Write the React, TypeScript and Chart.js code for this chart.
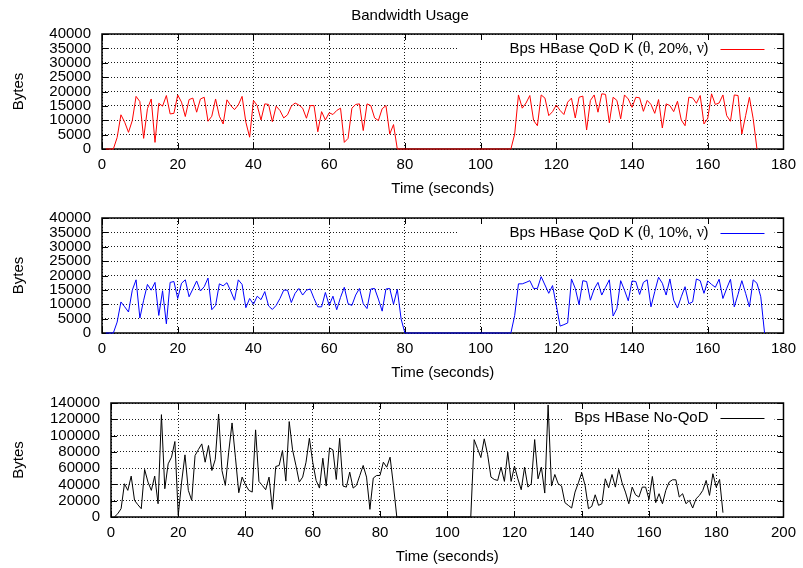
import React, { useEffect, useRef } from "react";
import { Chart, registerables } from "chart.js";

Chart.register(...registerables);

const FONT = "'Liberation Sans', Arial, Helvetica, sans-serif";
const GREEK_FONT = "'Liberation Serif', 'DejaVu Serif', serif";

const TITLE = "Bandwidth Usage";
const X_TITLE = "Time (seconds)";
const Y_TITLE = "Bytes";

const redLabel = "Bps HBase QoD K (θ, 20%, ν)";
const blueLabel = "Bps HBase QoD K (θ, 10%, ν)";
const blackLabel = "Bps HBase No-QoD";

// x-axis ranges and steps (seconds)
const qodXMax = 180;
const noQodXMax = 200;
const xStep = 20;
// y-axis ranges and steps (bytes)
const qodYMax = 40000;
const qodYStep = 5000;
const noQodYMax = 140000;
const noQodYStep = 20000;

// first sample second of each series (one sample per second)
const redStartSecond = 1;
const blueStartSecond = 1;
const blackStartSecond = 1;

const redBytes = [
  0, 0, 0, 4000, 11900, 9300, 5800, 9900, 18300, 16500,
  3700, 14000, 17400, 2300, 15900, 14900, 18600, 12200, 12400, 18800,
  16300, 11300, 17200, 17700, 12800, 17400, 18000, 9650, 11400, 17400,
  11400, 8700, 17100, 15100, 13700, 15300, 18300, 9300, 4100, 16900,
  15100, 10100, 15700, 15500, 9500, 14900, 13400, 10800, 11900, 14900,
  16000, 15300, 14200, 10700, 15100, 15100, 6000, 13000, 10100, 12600,
  12000, 13400, 14200, 2300, 3700, 14200, 15500, 15700, 6400, 15700,
  15100, 10800, 9900, 14000, 15100, 5200, 8500, 0, 0, 0,
  0, 0, 0, 0, 0, 0, 0, 0, 0, 0,
  0, 0, 0, 0, 0, 0, 0, 0, 0, 0,
  0, 0, 0, 0, 0, 0, 0, 0, 5200, 18800,
  14200, 16000, 18600, 9900, 8100, 18800, 17700, 11600, 13000, 15300,
  13400, 12000, 16300, 17700, 10800, 18000, 18400, 6600, 16900, 18800,
  12800, 19200, 19000, 9100, 18000, 16900, 10500, 18800, 17400, 14500,
  18000, 17800, 13100, 16900, 15500, 12400, 17200, 7300, 15700, 15100,
  13000, 16600, 10100, 8100, 18000, 17800, 15900, 18600, 8700, 10700,
  19200, 15500, 16000, 18800, 11600, 9650, 18800, 18600, 5200, 11600,
  18000, 10500, 0,
];

const blueBytes = [
  0, 0, 0, 3800, 10800, 9100, 7300, 14900, 18500, 5200,
  11400, 16900, 14900, 17600, 6100, 14700, 3200, 17600, 17900, 12000,
  17300, 18500, 12600, 15300, 18100, 14600, 16100, 19100, 8100, 9600,
  17100, 16400, 17500, 14600, 11400, 18500, 16900, 8800, 12000, 10000,
  12800, 11600, 14400, 9400, 8200, 9600, 12000, 14900, 14900, 10600,
  13800, 15500, 13200, 14900, 15300, 12000, 9100, 9100, 14100, 9600,
  12800, 8100, 12400, 15900, 10200, 9600, 13200, 15500, 10200, 8500,
  15300, 15500, 11800, 7600, 15300, 15500, 10000, 15200, 4900, 0,
  0, 0, 0, 0, 0, 0, 0, 0, 0, 0,
  0, 0, 0, 0, 0, 0, 0, 0, 0, 0,
  0, 0, 0, 0, 0, 0, 0, 0, 6100, 17100,
  17100, 17600, 18200, 15500, 15500, 19600, 16700, 13800, 16500, 9600,
  2400, 2900, 3500, 18800, 15500, 9900, 18200, 17900, 11400, 15300,
  17600, 13200, 15900, 18500, 5900, 8500, 18200, 14900, 11200, 18100,
  17900, 13400, 17600, 18500, 9100, 14400, 19400, 17300, 13200, 18800,
  11400, 8700, 12600, 16100, 10200, 10800, 18800, 18200, 13800, 18100,
  16900, 15900, 18700, 12000, 15500, 18700, 9100, 13500, 18200, 13800,
  9100, 18500, 17300, 12600, 0,
];

const blackBytes = [
  0, 4000, 10200, 40800, 32700, 50200, 20400, 15000, 10200, 58400,
  42900, 32700, 50200, 16300, 125700, 34700, 65300, 73500, 92700, 2000,
  42900, 76300, 32700, 20400, 75500, 82900, 89800, 67300, 87800, 57100,
  70600, 126500, 57100, 38800, 79600, 115500, 73500, 29800, 49000, 39600,
  32700, 30600, 107000, 43700, 38800, 33500, 49000, 9400, 62000, 63300,
  81600, 44100, 117200, 82400, 63300, 42900, 49000, 67300, 96700, 67300,
  44900, 35500, 72200, 38000, 84900, 82400, 46100, 96700, 38000, 36700,
  55100, 35500, 38800, 51000, 63300, 49000, 9400, 47800, 51000, 51000,
  67300, 61200, 73500, 38800, 0, 0, 0, 0, 0, 0,
  0, 0, 0, 0, 0, 0, 0, 0, 0, 0,
  0, 0, 0, 0, 0, 0, 0, 95000, 84000, 73000,
  96000, 77000, 49000, 46100, 44900, 61200, 43700, 79600, 43700, 62500,
  46900, 33500, 61200, 36700, 40800, 95100, 46900, 61200, 29400, 137600,
  38000, 52200, 40800, 38000, 17600, 14300, 11000, 30600, 42000, 54300,
  38800, 10200, 13100, 27300, 14300, 16300, 46900, 35900, 52200, 36700,
  58400, 42000, 30600, 16300, 36700, 27300, 24500, 36700, 36700, 21600,
  49800, 17600, 28600, 16300, 32700, 42900, 45700, 45700, 24500, 28600,
  16300, 20400, 11000, 22400, 26500, 32700, 44900, 26500, 53100, 36700,
  46100, 5300,
];

const W = 803;
const H = 568;

type Panel = {
  label: string;
  color: string;
  start: number;
  values: number[];
  xMax: number;
  yMax: number;
  yStep: number;
  area: { left: number; top: number; right: number; bottom: number };
  boxLeft: number;
  showTitle: boolean;
};

const panels: Panel[] = [
  {
    label: redLabel, color: "#ff0000", start: redStartSecond, values: redBytes,
    xMax: qodXMax, yMax: qodYMax, yStep: qodYStep,
    area: { left: 102, top: 34, right: 788, bottom: 149 }, boxLeft: 458, showTitle: true,
  },
  {
    label: blueLabel, color: "#0000ff", start: blueStartSecond, values: blueBytes,
    xMax: qodXMax, yMax: qodYMax, yStep: qodYStep,
    area: { left: 102, top: 218, right: 788, bottom: 333 }, boxLeft: 458, showTitle: false,
  },
  {
    label: blackLabel, color: "#000000", start: blackStartSecond, values: blackBytes,
    xMax: noQodXMax, yMax: noQodYMax, yStep: noQodYStep,
    area: { left: 111, top: 403, right: 788, bottom: 517 }, boxLeft: 563, showTitle: false,
  },
];

function drawMixedText(ctx: CanvasRenderingContext2D, text: string, rightX: number, y: number) {
  const parts: { s: string; greek: boolean }[] = [];
  for (const ch of text) {
    const greek = /[\u0370-\u03FF]/.test(ch);
    const last = parts[parts.length - 1];
    if (last && last.greek === greek) last.s += ch;
    else parts.push({ s: ch, greek });
  }
  let total = 0;
  const widths = parts.map((p) => {
    ctx.font = `15px ${p.greek ? GREEK_FONT : FONT}`;
    const w = ctx.measureText(p.s).width;
    total += w;
    return w;
  });
  let x = rightX - total;
  ctx.textAlign = "left";
  ctx.textBaseline = "middle";
  parts.forEach((p, i) => {
    ctx.font = `${p.greek ? "16px" : "15px"} ${p.greek ? GREEK_FONT : FONT}`;
    ctx.fillText(p.s, x, y);
    x += widths[i];
  });
}

function makePlugin(panel: Panel) {
  return {
    id: "gnuplotFrame",
    beforeDatasetsDraw(chart: any) {
      const { ctx, chartArea: a, scales } = chart;
      ctx.save();
      // opaque key box
      ctx.fillStyle = "#ffffff";
      ctx.fillRect(panel.boxLeft, a.top + 1, a.right - 9 - panel.boxLeft, 24);
      // border
      ctx.strokeStyle = "#000";
      ctx.lineWidth = 1.5;
      ctx.strokeRect(a.left, a.top, a.right - a.left, a.bottom - a.top);
      // inward ticks on all sides
      ctx.lineWidth = 1;
      ctx.beginPath();
      for (const t of scales.x.ticks) {
        const px = Math.round(scales.x.getPixelForValue(t.value)) + 0.5;
        ctx.moveTo(px, a.bottom);
        ctx.lineTo(px, a.bottom - 6);
        ctx.moveTo(px, a.top);
        ctx.lineTo(px, a.top + 6);
      }
      for (const t of scales.y.ticks) {
        const py = Math.round(scales.y.getPixelForValue(t.value)) + 0.5;
        ctx.moveTo(a.left, py);
        ctx.lineTo(a.left + 6, py);
        ctx.moveTo(a.right, py);
        ctx.lineTo(a.right - 6, py);
      }
      ctx.stroke();
      ctx.restore();
    },
    afterDraw(chart: any) {
      const { ctx, chartArea: a } = chart;
      ctx.save();
      ctx.fillStyle = "#000";
      // legend text + sample
      drawMixedText(ctx, panel.label, a.right - 75, a.top + 15);
      ctx.strokeStyle = panel.color;
      ctx.lineWidth = 1;
      ctx.beginPath();
      ctx.moveTo(a.right - 63, a.top + 15.5);
      ctx.lineTo(a.right - 19, a.top + 15.5);
      ctx.stroke();
      // axis titles
      ctx.font = `15px ${FONT}`;
      ctx.textAlign = "center";
      ctx.textBaseline = "middle";
      ctx.fillText(X_TITLE, (a.left + a.right) / 2, a.bottom + 40);
      ctx.save();
      ctx.translate(18.5, (a.top + a.bottom) / 2);
      ctx.rotate(-Math.PI / 2);
      ctx.fillText(Y_TITLE, 0, 0);
      ctx.restore();
      if (panel.showTitle) {
        ctx.fillText(TITLE, 410, 16);
      }
      ctx.restore();
    },
  };
}

function makeChart(canvas: HTMLCanvasElement, panel: Panel) {
  const data = panel.values.map((v, i) => ({ x: panel.start + i, y: v }));
  const tickFont = { family: FONT, size: 15 };
  return new Chart(canvas, {
    type: "line",
    data: {
      datasets: [
        {
          label: panel.label,
          data,
          borderColor: panel.color,
          backgroundColor: panel.color,
          borderWidth: 1,
          pointRadius: 0,
          tension: 0,
          fill: false,
          clip: false,
        } as any,
      ],
    },
    options: {
      responsive: false,
      animation: false,
      devicePixelRatio: 1,
      parsing: false as any,
      layout: {
        padding: {
          left: 0,
          top: panel.area.top,
          right: W - panel.area.right,
          bottom: H - panel.area.bottom - 30,
        },
      },
      plugins: {
        legend: { display: false },
        tooltip: { enabled: false },
        title: { display: false },
      },
      scales: {
        x: {
          type: "linear",
          min: 0,
          max: panel.xMax,
          afterFit: (s: any) => {
            s.height = 30;
          },
          ticks: {
            stepSize: xStep,
            autoSkip: false,
            maxRotation: 0,
            padding: 7,
            color: "#000",
            font: tickFont,
            callback: (v: any) => String(v),
          },
          grid: { color: "#1a1a1a", lineWidth: 1, drawTicks: false },
          border: { display: false, dash: [1, 2] },
        },
        y: {
          type: "linear",
          min: 0,
          max: panel.yMax,
          afterFit: (s: any) => {
            s.width = panel.area.left;
          },
          ticks: {
            stepSize: panel.yStep,
            autoSkip: false,
            padding: 11,
            color: "#000",
            font: tickFont,
            callback: (v: any) => String(v),
          },
          grid: { color: "#1a1a1a", lineWidth: 1, drawTicks: false },
          border: { display: false, dash: [1, 2] },
        },
      },
    } as any,
    plugins: [makePlugin(panel)],
  });
}

export default function App() {
  const refs = [useRef<HTMLCanvasElement>(null), useRef<HTMLCanvasElement>(null), useRef<HTMLCanvasElement>(null)];

  useEffect(() => {
    const charts = panels.map((p, i) => makeChart(refs[i].current as HTMLCanvasElement, p));
    return () => charts.forEach((c) => c.destroy());
  }, []);

  return (
    <div style={{ position: "absolute", left: 0, top: 0, width: W, height: H, background: "#fff" }}>
      {panels.map((p, i) => (
        <canvas
          key={i}
          ref={refs[i]}
          width={W}
          height={H}
          style={{ position: "absolute", left: 0, top: 0, width: W, height: H }}
        />
      ))}
    </div>
  );
}
